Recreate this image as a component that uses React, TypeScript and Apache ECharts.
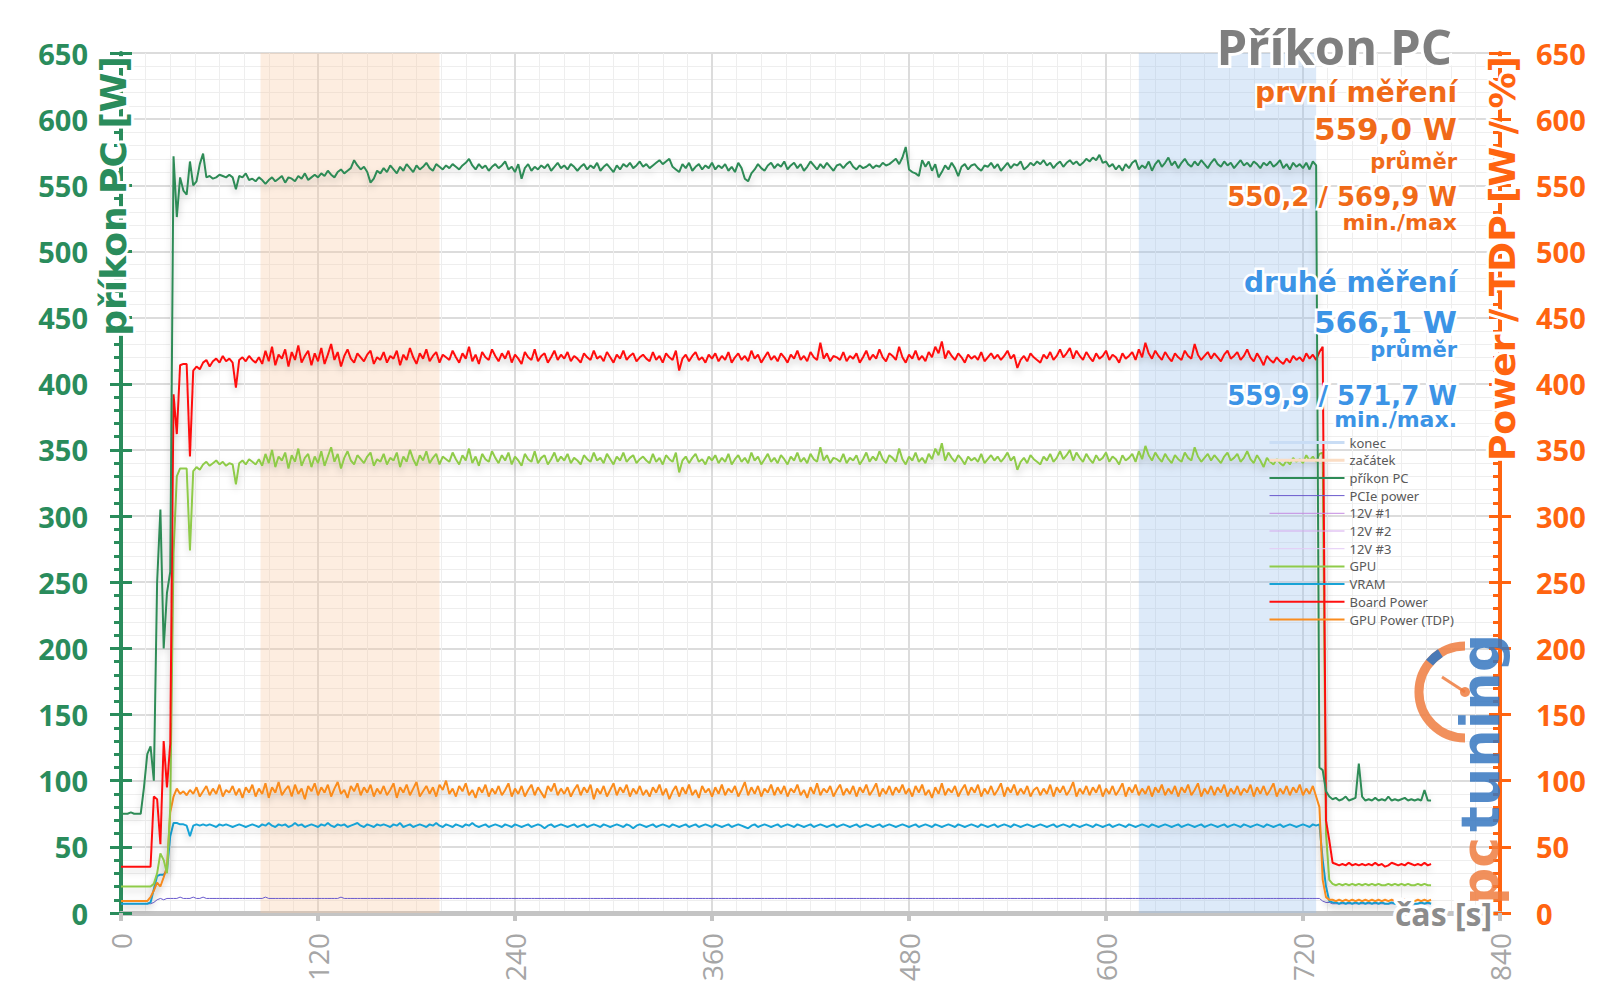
import React, { useEffect, useRef } from "react";
import * as echarts from "echarts";

// ---------- data ----------
const TIME_STEP = 2; // seconds between samples
const X_MIN = 0;
const X_MAX = 840;
const X_INTERVAL = 120;
const Y_MIN = 0;
const Y_MAX = 650;
const Y_INTERVAL = 50;

const BAND_START = [85, 194]; // "začátek"
const BAND_END = [620, 728]; // "konec"

const PRIKON_PC = [
  75,75,75,76,75,75,75,95,120,126,100,250,305,200,242,258,572,526,556,546,
  543,568,550,553,566,574,556,557,555,556,558,557,556,558,556,547,557,556,559,554,
  555,553,556,554,551,554,556,553,555,557,552,556,555,553,557,555,559,554,556,558,
  556,559,557,561,558,556,560,562,559,561,563,569,565,562,564,560,552,555,561,559,
  563,560,565,562,559,564,561,566,563,560,565,562,564,567,563,561,566,564,562,565,
  563,566,564,562,565,567,570,565,562,566,563,565,561,564,566,563,565,568,562,564,
  560,566,555,563,566,561,564,562,565,563,566,561,564,567,563,565,562,566,564,561,
  564,566,562,565,563,567,561,564,566,563,560,565,562,566,564,567,563,565,568,564,
  566,563,565,567,569,566,568,570,564,562,560,566,563,567,561,564,566,562,565,563,
  567,562,565,563,566,561,564,560,567,563,555,553,559,562,566,563,561,565,567,563,
  566,564,568,562,565,567,563,566,561,564,568,565,562,566,563,567,564,561,565,566,
  563,566,568,564,562,565,563,564,566,563,565,564,567,565,566,568,570,566,571,579,
  562,560,559,557,569,564,568,561,566,556,560,565,562,567,563,557,564,566,562,565,
  566,563,561,565,564,567,563,566,561,564,567,563,566,565,568,562,564,567,565,568,
  566,569,565,567,563,566,568,564,567,569,566,568,565,567,570,568,571,569,573,567,
  568,564,566,562,565,561,566,563,567,569,562,565,563,568,561,566,569,564,567,571,
  565,568,563,567,570,566,564,568,565,569,566,563,567,570,566,564,568,565,567,563,
  566,569,565,567,564,568,566,563,567,565,568,564,566,569,563,566,562,567,564,566,
  563,567,562,568,565,110,108,92,88,86,87,85,86,88,85,86,87,113,88,85,
  86,85,87,85,86,85,88,85,86,85,86,87,85,86,85,86,85,93,85,85,
];

const BOARD_POWER = [
  35,35,35,35,35,35,35,35,35,35,88,86,52,130,95,128,392,362,414,415,
  415,345,410,413,411,416,418,413,417,419,416,421,417,419,416,397,418,420,417,421,
  418,416,420,415,425,417,428,414,422,419,426,413,424,418,429,416,421,425,414,423,
  417,427,415,422,430,418,424,413,421,426,419,416,423,420,417,422,425,415,420,418,
  424,416,421,419,425,414,422,418,427,420,415,423,419,426,417,421,424,416,422,420,
  418,425,420,416,423,419,428,417,422,415,424,420,418,426,421,417,423,419,425,416,
  422,419,415,424,420,418,426,417,421,423,416,420,425,418,422,419,424,417,421,419,
  416,423,420,418,425,419,421,417,424,420,416,422,419,425,418,421,423,417,420,422,
  419,417,424,418,421,416,423,420,418,425,410,419,422,417,421,424,418,420,416,422,
  419,423,417,421,418,424,416,420,423,418,421,417,425,419,422,416,420,424,418,421,
  417,423,420,416,422,419,425,418,421,417,424,420,418,431,419,423,417,421,420,418,
  424,417,421,419,423,416,420,425,418,422,419,426,420,417,423,421,418,428,420,416,
  422,419,425,418,421,417,424,420,428,423,432,419,425,421,418,423,420,416,422,419,
  421,418,424,417,420,423,419,422,418,421,425,419,422,412,418,421,417,423,420,418,
  416,422,419,424,418,421,426,420,423,427,419,425,421,418,424,420,417,423,419,421,
  425,418,422,420,416,423,419,421,424,418,426,420,431,423,419,425,421,418,424,420,
  417,423,420,418,425,421,419,430,422,418,421,424,419,423,420,417,422,425,419,421,
  424,418,421,426,420,417,423,419,414,421,418,416,420,417,415,419,416,421,418,420,
  417,423,419,422,418,424,428,70,55,38,37,36,37,36,38,36,37,36,37,36,
  37,36,38,36,37,35,36,38,37,36,37,36,38,37,36,37,36,38,36,37,
];

const GPU = [
  20,20,20,20,20,20,20,20,20,20,22,30,45,40,30,80,272,330,336,336,
  336,274,334,337,335,339,341,338,340,342,339,341,338,340,339,324,340,342,339,343,
  341,339,343,338,347,340,350,337,345,342,348,336,346,341,351,338,344,347,337,345,
  340,349,338,345,352,341,347,336,344,349,342,339,346,343,340,345,348,338,343,341,
  347,339,344,342,348,337,345,341,350,343,338,346,342,349,340,344,347,339,345,343,
  341,348,343,339,346,342,351,340,345,338,347,343,341,349,344,340,346,342,348,339,
  345,342,338,347,343,341,349,340,344,346,339,343,348,341,345,342,347,340,344,342,
  339,346,343,341,348,342,344,340,347,343,339,345,342,348,341,344,346,340,343,345,
  342,340,347,341,344,339,346,343,341,348,333,342,345,340,344,347,341,343,339,345,
  342,346,340,344,341,347,339,343,346,341,344,340,348,342,345,339,343,347,341,344,
  340,346,343,339,345,342,348,341,344,340,347,343,341,352,342,346,340,344,343,341,
  347,340,344,342,346,339,343,348,341,345,342,349,343,340,346,344,341,351,343,339,
  345,342,348,341,344,340,347,343,351,346,355,342,348,344,341,346,343,339,345,342,
  344,341,347,340,343,346,342,345,341,344,348,342,345,335,341,344,340,346,343,341,
  339,345,342,347,341,344,349,343,346,350,342,348,344,341,347,343,340,346,342,344,
  348,341,345,343,339,346,342,344,347,341,349,343,353,346,342,348,344,341,347,343,
  340,346,343,341,348,344,342,352,345,341,344,347,342,346,343,340,345,348,342,344,
  347,341,344,349,343,340,346,342,337,344,341,339,343,340,338,342,339,344,341,343,
  340,346,342,345,341,347,348,60,25,22,21,22,21,22,21,22,21,22,21,22,
  21,22,21,22,21,21,22,21,22,21,22,21,22,21,21,22,21,22,21,21,
];

const GPU_POWER_TDP = [
  9,9,9,9,9,9,9,9,9,12,17,23,20,27,35,76,88,94,90,92,
  89,93,90,95,88,92,96,89,94,90,97,88,93,91,96,89,94,87,95,91,
  97,88,94,90,98,87,95,91,99,89,93,96,88,97,90,94,86,96,92,98,
  89,95,91,97,88,94,99,90,93,87,96,92,98,89,95,91,97,88,94,90,
  96,89,93,98,87,95,91,97,89,94,99,88,92,96,90,95,88,97,93,100,
  90,94,88,96,92,98,89,93,87,95,91,97,88,94,90,96,89,93,98,88,
  94,90,96,88,93,97,89,95,91,87,96,92,98,89,94,90,95,88,93,97,
  89,95,91,97,86,94,90,96,88,93,98,89,95,91,97,88,94,90,96,89,
  93,88,95,91,97,89,94,86,92,96,88,95,90,97,89,93,87,96,91,94,
  88,95,90,97,89,94,91,96,88,93,99,89,95,90,96,88,94,91,97,89,
  95,90,96,88,94,91,97,89,93,87,95,90,98,89,94,91,96,88,93,97,
  89,94,90,96,88,95,91,97,89,93,98,88,94,90,96,89,95,91,97,90,
  94,88,96,91,97,89,93,87,95,90,98,89,94,91,96,88,93,97,89,95,
  91,97,88,94,90,96,89,93,98,88,95,91,97,89,94,90,96,88,93,95,
  89,94,90,97,88,95,91,96,89,93,99,88,94,90,96,89,95,91,97,88,
  94,90,96,89,93,98,88,95,91,97,89,94,90,96,88,95,91,97,89,94,
  90,96,88,95,91,97,89,93,98,88,94,90,96,89,95,91,97,88,94,90,
  96,89,94,91,97,88,95,90,96,89,93,98,88,94,90,96,89,95,91,97,
  89,94,90,96,88,80,25,12,10,10,9,10,9,10,9,10,9,10,9,10,
  9,10,9,10,9,10,9,10,9,10,9,10,9,10,9,10,9,10,9,10,
];

const VRAM = [
  7,7,7,7,7,7,7,7,7,8,18,28,29,29,32,58,68,68,67,67,
  66,58,66,67,66,67,66,67,66,65,67,66,67,66,65,66,67,66,65,66,
  67,66,65,67,66,68,66,65,67,66,67,65,66,68,66,67,65,66,67,66,
  65,67,66,68,66,65,67,66,67,65,66,67,68,66,65,67,66,65,67,66,
  67,66,65,67,66,68,65,66,67,65,66,67,66,65,67,66,68,66,65,67,
  66,65,67,66,65,67,66,68,66,65,66,67,65,66,67,66,65,67,66,65,
  67,66,65,66,67,65,66,67,66,64,66,67,65,66,67,66,65,66,67,65,
  66,67,65,66,67,66,65,67,66,65,66,67,66,65,67,66,64,66,67,66,
  65,66,67,65,66,67,66,65,67,66,65,66,67,65,66,67,65,66,67,66,
  65,67,66,65,66,67,65,66,67,66,65,64,66,67,65,66,67,66,65,66,
  67,65,66,67,66,65,67,66,65,66,67,65,66,67,66,65,66,67,65,66,
  67,66,65,66,67,65,66,67,66,65,66,67,65,66,67,66,65,66,67,66,
  65,66,67,65,66,67,66,65,67,66,65,66,67,66,65,67,66,65,66,67,
  66,65,67,66,65,66,67,65,66,67,66,65,67,66,65,66,67,66,65,66,
  67,66,65,66,67,65,66,67,66,65,67,66,65,66,67,66,65,67,66,65,
  66,67,65,66,67,66,65,67,66,65,66,67,66,65,67,66,65,66,67,66,
  65,66,67,65,66,67,66,65,66,67,65,66,67,66,65,66,67,65,66,67,
  66,65,67,66,65,66,67,66,65,67,66,65,66,67,65,66,67,66,65,66,
  67,66,65,67,66,67,40,20,9,8,8,7,8,7,8,7,8,7,8,7,
  8,7,8,7,8,7,7,8,7,8,7,8,7,8,7,7,8,7,8,7,
];

const PCIE_POWER = [
  7,7,7,7,7,7,7,7,7,7,8,10,11,10,11,11,11,11,12,11,
  11,11,12,11,11,12,11,11,11,11,11,11,11,11,11,11,11,11,11,11,
  11,11,11,11,12,11,11,11,11,11,11,11,11,11,11,11,11,11,11,11,
  11,11,11,11,11,11,11,12,11,11,11,11,11,11,11,11,11,11,11,11,
  11,11,11,11,11,11,11,11,11,11,11,11,11,11,11,11,11,11,11,11,
  11,11,11,11,11,11,11,11,11,11,11,11,11,11,11,11,11,11,11,11,
  11,11,11,11,11,11,11,11,11,11,11,11,11,11,11,11,11,11,11,11,
  11,11,11,11,11,11,11,11,11,11,11,11,11,11,11,11,11,11,11,11,
  11,11,11,11,11,11,11,11,11,11,11,11,11,11,11,11,11,11,11,11,
  11,11,11,11,11,11,11,11,11,11,11,11,11,11,11,11,11,11,11,11,
  11,11,11,11,11,11,11,11,11,11,11,11,11,11,11,11,11,11,11,11,
  11,11,11,11,11,11,11,11,11,11,11,11,11,11,11,11,11,11,11,11,
  11,11,11,11,11,11,11,11,11,11,11,11,11,11,11,11,11,11,11,11,
  11,11,11,11,11,11,11,11,11,11,11,11,11,11,11,11,11,11,11,11,
  11,11,11,11,11,11,11,11,11,11,11,11,11,11,11,11,11,11,11,11,
  11,11,11,11,11,11,11,11,11,11,11,11,11,11,11,11,11,11,11,11,
  11,11,11,11,11,11,11,11,11,11,11,11,11,11,11,11,11,11,11,11,
  11,11,11,11,11,11,11,11,11,11,11,11,11,11,11,11,11,11,11,11,
  11,11,11,11,11,11,9,8,8,7,7,7,7,7,7,7,7,7,7,7,
  7,7,7,7,7,7,7,7,7,7,7,7,7,7,7,7,7,7,7,7,
];

const V12_1: number[] = [];
const V12_2: number[] = [];
const V12_3: number[] = [];

const LEGEND_NAMES = [
  "konec", "začátek", "příkon PC", "PCIe power", "12V #1", "12V #2", "12V #3",
  "GPU", "VRAM", "Board Power", "GPU Power (TDP)",
];

const TITLE = "Příkon PC";
const X_NAME = "čas [s]";
const Y_LEFT_NAME = "příkon PC [W]";
const Y_RIGHT_NAME = "Power / TDP [W / %]";
const FIRST_TEXTS = ["první měření", "559,0 W", "průměr", "550,2 / 569,9 W", "min./max"];
const SECOND_TEXTS = ["druhé měření", "566,1 W", "průměr", "559,9 / 571,7 W", "min./max."];

// ---------- styles ----------
const C_GREEN_AXIS = "#2A8C5C";
const C_ORANGE_AXIS = "#FF6410";
const C_ORANGE_TXT = "#F06A18";
const C_BLUE_TXT = "#3C94E6";
const C_GRAY_TITLE = "#7F7F7F";

const C_PC = "#2E8B57";
const C_PCIE = "#6A5ACD";
const C_12V1 = "#C58BE2";
const C_12V2 = "#D5A9EE";
const C_12V3 = "#E4CBF6";
const C_GPU = "#8FCB4A";
const C_VRAM = "#18A3D6";
const C_BOARD = "#FF1010";
const C_TDP = "#FA8C1E";
const C_KONEC = "#C9DDF5";
const C_ZACATEK = "#FBDDC4";

const TEXT_SIZES = [28, 31, 21, 26, 22];
const FIRST_Y = [92, 129, 162, 197, 222];
const SECOND_Y = [282, 322, 350, 396, 419];
const TEXT_RIGHT = 1457;

const toPairs = (vals: number[]) => vals.map((v, i) => [i * TIME_STEP, v]);

const SHADOW = { shadowColor: "rgba(0,0,0,0.2)", shadowBlur: 7, shadowOffsetY: 4 };

function lineSeries(name: string, vals: number[], color: string, width: number, yAxisIndex: number, shadow: boolean) {
  return {
    name,
    type: "line",
    data: toPairs(vals),
    yAxisIndex,
    color,
    symbol: "none",
    showSymbol: false,
    silent: true,
    emphasis: { disabled: true },
    lineStyle: Object.assign({ color, width }, shadow ? SHADOW : {}),
    itemStyle: { color },
  };
}

function annotationTexts(texts: string[], ys: number[], color: string) {
  return texts.map((t, i) => ({
    type: "text",
    x: TEXT_RIGHT,
    y: ys[i],
    z: 100,
    silent: true,
    style: {
      text: t,
      fill: color,
      font: `bold ${TEXT_SIZES[i]}px "DejaVu Sans"`,
      align: "right",
      verticalAlign: "middle",
      stroke: "#ffffff",
      lineWidth: 5,
    },
  }));
}

function verticalAxisName(text: string, x: number, color: string) {
  return {
    type: "text",
    x,
    y: 56,
    z: 50,
    silent: true,
    rotation: Math.PI / 2,
    style: {
      text,
      fill: color,
      font: 'bold 36px "DejaVu Sans"',
      align: "right",
      verticalAlign: "middle",
      stroke: "#ffffff",
      lineWidth: 6,
    },
  };
}

export default function App() {
  const ref = useRef<HTMLDivElement>(null);

  useEffect(() => {
    if (!ref.current) return;
    const chart = echarts.init(ref.current, undefined, { renderer: "svg" });

    const tickAxisBase = {
      type: "value",
      min: Y_MIN,
      max: Y_MAX,
      interval: Y_INTERVAL,
      axisLabel: { show: false },
      splitLine: { show: false },
      axisLine: { show: false },
    };

    const option: any = {
      animation: false,
      backgroundColor: "#ffffff",
      grid: { left: 121, right: 100, top: 53, bottom: 95, containLabel: false, outerBoundsMode: "none" },
      legend: {
        orient: "vertical",
        left: 1263,
        top: 431,
        itemWidth: 75,
        itemHeight: 10,
        itemGap: 4.7,
        selectedMode: false,
        itemStyle: { opacity: 0 },
        textStyle: { color: "#595959", fontSize: 13, fontFamily: "Noto Sans" },
        data: LEGEND_NAMES.map((n, i) => ({
          name: n,
          lineStyle: { width: i < 2 ? 3 : i >= 3 && i <= 6 ? 1 : 2 },
        })),
      },
      xAxis: {
        type: "value",
        min: X_MIN,
        max: X_MAX,
        interval: X_INTERVAL,
        axisLine: { show: true, onZero: false, lineStyle: { color: "#C4C4C4", width: 5 } },
        axisTick: { show: true, length: 8, lineStyle: { color: "#C4C4C4", width: 4 } },
        axisLabel: { rotate: 90, margin: 20, color: "#A6A6A6", fontSize: 28, fontFamily: "Open Sans" },
        splitLine: { show: true, lineStyle: { color: "#DCDCDC", width: 2 } },
        minorTick: { show: false, splitNumber: 8 },
        minorSplitLine: { show: true, lineStyle: { color: "#EEEEEE", width: 1 } },
      },
      yAxis: [
        {
          type: "value",
          position: "left",
          min: Y_MIN,
          max: Y_MAX,
          interval: Y_INTERVAL,
          axisLine: { show: true, lineStyle: { color: C_GREEN_AXIS, width: 4 } },
          axisTick: { show: true, length: 11, lineStyle: { color: C_GREEN_AXIS, width: 3 } },
          minorTick: { show: true, splitNumber: 5, length: 7, lineStyle: { color: C_GREEN_AXIS, width: 3 } },
          axisLabel: { margin: 33, color: C_GREEN_AXIS, fontSize: 29, fontWeight: "bold", fontFamily: "Open Sans" },
          splitLine: { show: true, lineStyle: { color: "#DCDCDC", width: 2 } },
          minorSplitLine: { show: true, lineStyle: { color: "#EEEEEE", width: 1 } },
        },
        {
          type: "value",
          position: "right",
          min: Y_MIN,
          max: Y_MAX,
          interval: Y_INTERVAL,
          axisLine: { show: true, lineStyle: { color: C_ORANGE_AXIS, width: 4 } },
          axisTick: { show: true, length: 11, lineStyle: { color: C_ORANGE_AXIS, width: 3 } },
          axisLabel: { margin: 36, color: C_ORANGE_AXIS, fontSize: 29, fontWeight: "bold", fontFamily: "Open Sans" },
          splitLine: { show: false },
        },
        {
          ...tickAxisBase,
          position: "left",
          axisTick: { show: true, inside: true, length: 11, lineStyle: { color: C_GREEN_AXIS, width: 3 } },
        },
        {
          ...tickAxisBase,
          position: "right",
          axisTick: { show: true, inside: true, length: 11, lineStyle: { color: C_ORANGE_AXIS, width: 3 } },
          minorTick: { show: true, splitNumber: 5, length: 7, lineStyle: { color: C_ORANGE_AXIS, width: 3 } },
        },
      ],
      series: [
        {
          name: "konec",
          type: "line",
          data: [],
          yAxisIndex: 1,
          color: C_KONEC,
          symbol: "none",
          lineStyle: { color: C_KONEC, width: 3 },
          itemStyle: { color: C_KONEC },
          markArea: {
            silent: true,
            itemStyle: { color: "rgba(152,192,238,0.33)" },
            data: [[{ xAxis: BAND_END[0] }, { xAxis: BAND_END[1] }]],
          },
        },
        {
          name: "začátek",
          type: "line",
          data: [],
          yAxisIndex: 1,
          color: C_ZACATEK,
          symbol: "none",
          lineStyle: { color: C_ZACATEK, width: 3 },
          itemStyle: { color: C_ZACATEK },
          markArea: {
            silent: true,
            itemStyle: { color: "rgba(250,200,160,0.33)" },
            data: [[{ xAxis: BAND_START[0] }, { xAxis: BAND_START[1] }]],
          },
        },
        lineSeries("PCIe power", PCIE_POWER, C_PCIE, 1, 1, false),
        lineSeries("12V #1", V12_1, C_12V1, 1, 1, false),
        lineSeries("12V #2", V12_2, C_12V2, 1, 1, false),
        lineSeries("12V #3", V12_3, C_12V3, 1, 1, false),
        lineSeries("VRAM", VRAM, C_VRAM, 2, 1, true),
        lineSeries("GPU Power (TDP)", GPU_POWER_TDP, C_TDP, 2, 1, true),
        lineSeries("GPU", GPU, C_GPU, 2, 1, true),
        lineSeries("Board Power", BOARD_POWER, C_BOARD, 2, 1, true),
        lineSeries("příkon PC", PRIKON_PC, C_PC, 2, 0, true),
      ],
      graphic: [
        // pctuning watermark logo
        {
          type: "arc",
          z: 1,
          silent: true,
          shape: { cx: 1465, cy: 692, r: 46, startAngle: Math.PI * 0.5, endAngle: Math.PI * 1.5, clockwise: true },
          style: { stroke: "rgba(238,125,64,0.85)", lineWidth: 9, fill: "none" },
        },
        {
          type: "arc",
          z: 2,
          silent: true,
          shape: { cx: 1465, cy: 692, r: 46, startAngle: Math.PI * 1.22, endAngle: Math.PI * 1.32, clockwise: true },
          style: { stroke: "rgba(54,119,192,0.9)", lineWidth: 9, fill: "none" },
        },
        {
          type: "line",
          z: 1,
          silent: true,
          shape: { x1: 1465, y1: 692, x2: 1442, y2: 677 },
          style: { stroke: "rgba(238,125,64,0.85)", lineWidth: 3 },
        },
        {
          type: "circle",
          z: 1,
          silent: true,
          shape: { cx: 1465, cy: 692, r: 5 },
          style: { fill: "rgba(238,125,64,0.85)" },
        },
        {
          type: "text",
          z: 1,
          silent: true,
          x: 1480,
          y: 905,
          rotation: Math.PI / 2,
          style: {
            text: "pc",
            fill: "rgba(238,125,64,0.85)",
            font: 'bold 52px "DejaVu Sans"',
            align: "left",
            verticalAlign: "middle",
          },
        },
        {
          type: "text",
          z: 1,
          silent: true,
          x: 1480,
          y: 832,
          rotation: Math.PI / 2,
          style: {
            text: "tuning",
            fill: "rgba(54,119,192,0.85)",
            font: 'bold 54px "DejaVu Sans"',
            align: "left",
            verticalAlign: "middle",
          },
        },
        // axis names
        verticalAxisName(Y_LEFT_NAME, 113, C_GREEN_AXIS),
        verticalAxisName(Y_RIGHT_NAME, 1502, C_ORANGE_AXIS),
        {
          type: "text",
          x: 1492,
          y: 913,
          z: 100,
          silent: true,
          style: {
            text: X_NAME,
            fill: "#8C8C8C",
            font: 'bold 32px "Open Sans"',
            align: "right",
            verticalAlign: "middle",
            stroke: "#ffffff",
            lineWidth: 7,
          },
        },
        // title block
        {
          type: "text",
          x: 1452,
          y: 46,
          z: 100,
          silent: true,
          style: {
            text: TITLE,
            fill: C_GRAY_TITLE,
            font: 'bold 49px "Open Sans"',
            align: "right",
            verticalAlign: "middle",
            stroke: "#ffffff",
            lineWidth: 6,
          },
        },
        ...annotationTexts(FIRST_TEXTS, FIRST_Y, C_ORANGE_TXT),
        ...annotationTexts(SECOND_TEXTS, SECOND_Y, C_BLUE_TXT),
      ],
    };

    chart.setOption(option);
    return () => {
      chart.dispose();
    };
  }, []);

  return (
    <div
      ref={ref}
      style={{ position: "absolute", left: 0, top: 0, width: 1600, height: 1008, background: "#ffffff" }}
    />
  );
}
